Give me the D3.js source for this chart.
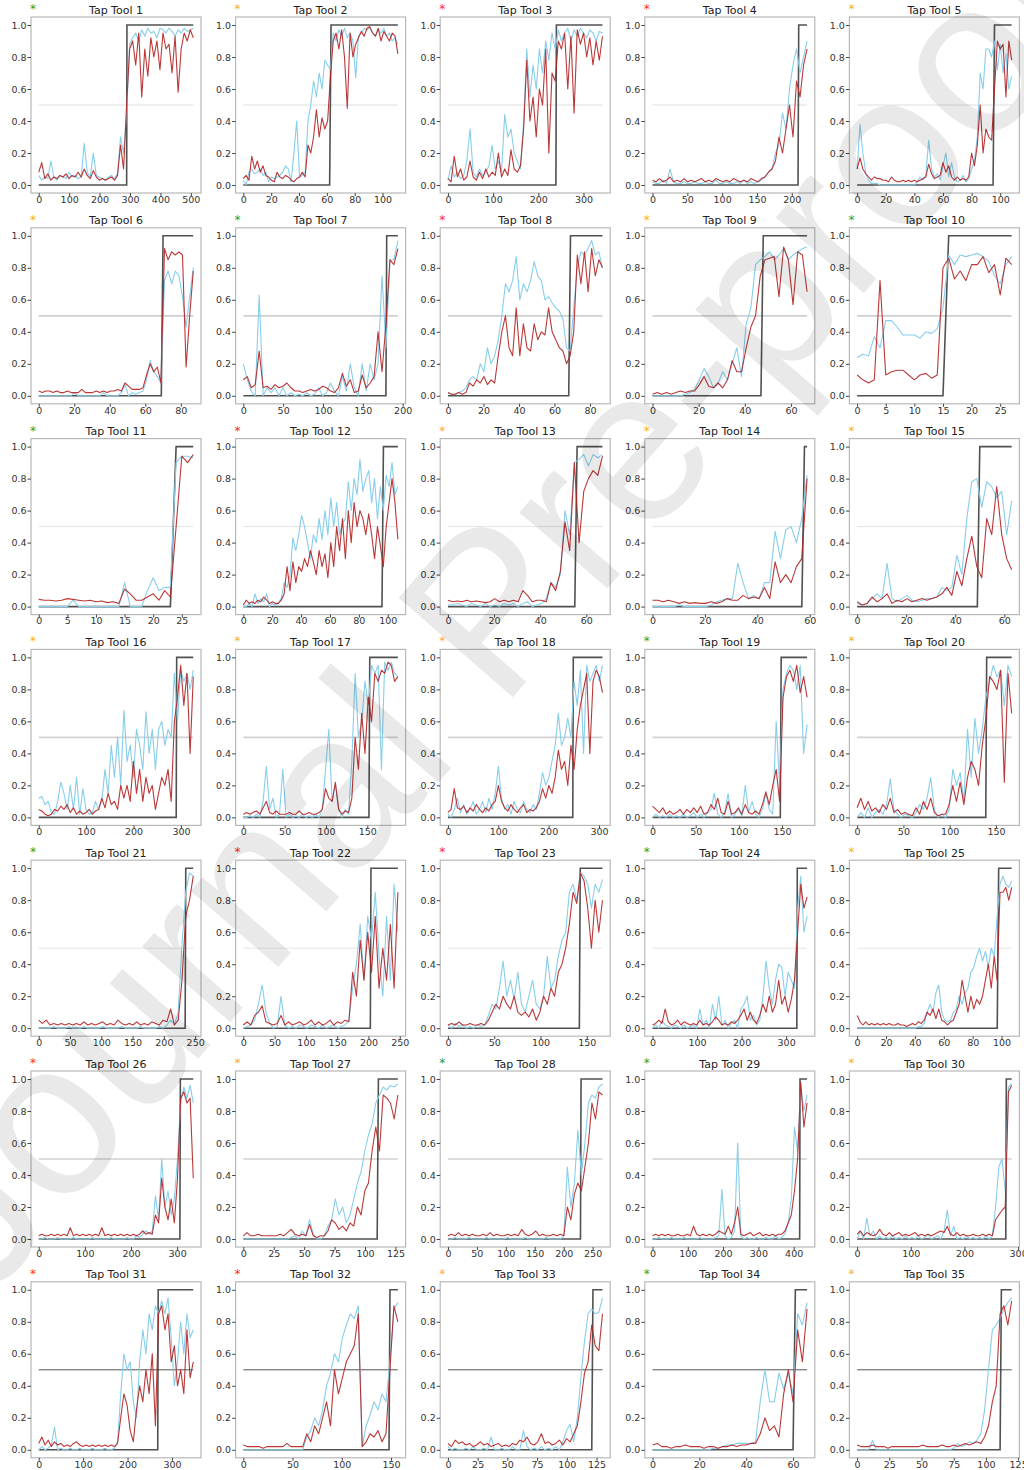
<!DOCTYPE html>
<html><head><meta charset="utf-8">
<script src="https://cdn.jsdelivr.net/npm/d3@7"></script>
<style>body{margin:0;background:#fff}</style>
</head><body><script>
// ---------- data ----------
const titles = d3.range(1, 36).map(i => "Tap Tool " + i);
const markers = ["g","o","r","r","o", "o","g","r","o","g", "g","r","o","o","o", "o","o","o","g","o", "g","r","r","g","o", "r","o","g","g","o", "r","r","o","g","o"];
const lengths = [509,112,343,223,109, 88,195,88,68,28, 28,108,68,60,64, 327,188,308,180,168, 248,248,168,348,108, 336,128,268,439,289, 349,158,131,67,121];
const changePoints = [290,63,240,210,96, 70,180,69,48,16, 24,97,56,58,50, 291,153,249,149,140, 235,204,143,325,98, 307,111,230,418,278, 269,149,122,61,112];
const xTickSteps = [100,20,100,50,20, 20,50,20,20,5, 5,20,20,20,20, 100,50,100,50,50, 50,50,50,100,20, 100,25,50,100,100, 100,50,25,20,25];
const yTicks = [0,0.2,0.4,0.6,0.8,1.0];

const b1=[0.06,0.03,0.05,0.04,0.15,0.05,0.03,0.06,0.05,0.04,0.08,0.05,0.06,0.04,0.05,0.26,0.08,0.05,0.2,0.06,0.05,0.04,0.03,0.05,0.06,0.04,0.07,0.3,0.2,0.45,0.88,0.92,0.95,0.9,0.97,0.93,0.98,0.95,0.96,0.92,0.98,0.97,0.95,0.98,0.96,0.93,0.97,0.95,0.98,0.96,0.97,0.98];
const r1=[0.08,0.14,0.04,0.07,0.03,0.05,0.04,0.06,0.05,0.07,0.04,0.06,0.05,0.08,0.05,0.1,0.06,0.04,0.09,0.05,0.03,0.04,0.03,0.04,0.05,0.03,0.06,0.25,0.1,0.5,0.85,0.9,0.75,0.95,0.55,0.85,0.68,0.92,0.8,0.9,0.72,0.95,0.85,0.88,0.7,0.93,0.58,0.85,0.95,0.9,0.97,0.92];
const b2=[0.03,0.0,0.08,0.1,0.07,0.08,0.1,0.06,0.08,0.02,0.05,0.04,0.05,0.06,0.08,0.12,0.1,0.02,0.2,0.4,0.05,0.06,0.08,0.4,0.5,0.65,0.55,0.7,0.6,0.78,0.75,0.72,0.95,0.9,0.97,0.93,0.98,0.92,0.95,0.9,0.67,0.93,0.95,0.98,0.97,0.98,0.95,0.93,0.97,0.95,0.98,0.93,0.95,0.9,0.92,0.88];
const r2=[0.04,0.06,0.03,0.18,0.1,0.15,0.08,0.12,0.06,0.05,0.03,0.02,0.08,0.05,0.04,0.06,0.05,0.03,0.02,0.04,0.05,0.08,0.05,0.25,0.2,0.3,0.47,0.3,0.42,0.35,0.4,0.68,0.9,0.95,0.85,0.97,0.8,0.48,0.95,0.8,0.88,0.92,0.96,0.93,0.98,0.99,0.95,0.93,0.98,0.9,0.96,0.93,0.9,0.95,0.93,0.82];
const b3=[0.03,0.12,0.05,0.08,0.04,0.06,0.15,0.35,0.08,0.05,0.1,0.06,0.08,0.12,0.25,0.1,0.15,0.08,0.44,0.3,0.35,0.2,0.15,0.1,0.4,0.85,0.55,0.75,0.6,0.85,0.7,0.9,0.78,0.95,0.85,0.97,0.9,0.95,0.98,0.9,0.97,0.93,0.98,0.95,0.92,0.97,0.95,0.9,0.96,0.95];
const r3=[0.04,0.02,0.18,0.05,0.1,0.03,0.05,0.15,0.05,0.03,0.08,0.04,0.1,0.05,0.08,0.06,0.2,0.05,0.1,0.06,0.22,0.1,0.08,0.12,0.35,0.78,0.4,0.55,0.3,0.6,0.5,0.85,0.2,0.7,0.65,0.9,0.85,0.95,0.6,0.93,0.45,0.97,0.88,0.95,0.8,0.92,0.75,0.9,0.78,0.93];
const b4=[0.02,0.01,0.01,0.03,0.01,0.1,0.02,0.01,0.01,0.02,0.01,0.01,0.02,0.01,0.01,0.02,0.01,0.01,0.03,0.01,0.01,0.02,0.01,0.01,0.02,0.01,0.03,0.01,0.02,0.01,0.02,0.03,0.05,0.08,0.1,0.2,0.25,0.45,0.35,0.6,0.75,0.85,0.7,0.8,0.9];
const r4=[0.03,0.02,0.04,0.02,0.03,0.05,0.02,0.03,0.02,0.04,0.02,0.03,0.02,0.03,0.04,0.02,0.03,0.02,0.04,0.03,0.02,0.03,0.02,0.04,0.03,0.02,0.03,0.02,0.04,0.03,0.02,0.04,0.05,0.08,0.1,0.15,0.3,0.2,0.35,0.5,0.3,0.65,0.55,0.75,0.85];
const b5=[0.1,0.38,0.2,0.08,0.03,0.01,0.01,0.01,0,0,0,0,0,0,0,0,0,0,0,0,0,0.02,0.05,0.03,0.06,0.28,0.1,0.05,0.07,0.03,0.12,0.2,0.05,0.14,0.05,0.02,0.03,0.06,0.02,0.04,0.1,0.15,0.3,0.7,0.6,0.85,0.85,0.8,0.9,0.72,0.88,0.7,0.82,0.6,0.68];
const r5=[0.1,0.17,0.1,0.07,0.05,0.03,0.05,0.04,0.04,0.03,0.03,0.02,0.05,0.03,0.02,0.02,0.03,0.02,0.03,0.02,0.03,0.02,0.03,0.04,0.05,0.13,0.07,0.04,0.05,0.06,0.14,0.08,0.12,0.05,0.03,0.05,0.03,0.04,0.03,0.05,0.2,0.12,0.25,0.5,0.2,0.35,0.3,0.28,0.6,0.9,0.85,0.88,0.55,0.9,0.78];
const b6=[0,0,0,0,0,0,0,0,0,0,0.02,0,0,0,0,0,0,0,0.02,0,0,0,0,0.02,0.07,0,0.02,0.01,0.02,0.03,0.1,0.22,0.15,0.12,0.08,0.72,0.78,0.7,0.78,0.75,0.62,0.43,0.62,0.8];
const r6=[0.03,0.02,0.03,0.03,0.02,0.03,0.02,0.02,0.03,0.02,0.02,0.02,0.04,0.02,0.02,0.02,0.03,0.02,0.03,0.02,0.03,0.03,0.04,0.03,0.08,0.06,0.04,0.04,0.04,0.05,0.13,0.2,0.15,0.18,0.08,0.92,0.85,0.9,0.88,0.9,0.88,0.18,0.5,0.78];
const b7=[0.2,0.1,0.03,0,0.63,0,0.05,0.02,0.05,0,0.05,0,0.02,0,0.01,0,0.02,0,0.01,0.05,0,0.02,0.08,0.03,0,0.12,0.03,0.2,0.05,0,0.2,0.03,0.2,0.1,0.2,0.75,0.3,0.85,0.85,0.97];
const r7=[0.1,0.12,0.05,0.07,0.28,0.05,0.06,0.04,0.07,0.05,0.06,0.08,0.05,0.03,0.03,0.02,0.03,0.04,0.03,0.04,0.06,0.05,0.03,0.02,0.05,0.14,0.06,0.1,0.02,0.03,0.13,0.05,0.08,0.12,0.4,0.15,0.45,0.85,0.82,0.92];
const b8=[0.02,0.01,0.01,0.02,0.03,0.05,0.1,0.12,0.1,0.2,0.15,0.3,0.2,0.25,0.35,0.5,0.7,0.65,0.72,0.87,0.6,0.7,0.65,0.72,0.84,0.75,0.72,0.6,0.62,0.58,0.55,0.53,0.48,0.3,0.28,0.55,0.8,0.9,0.88,0.92,0.97,0.88,0.9,0.8];
const r8=[0.02,0.01,0.01,0.02,0.01,0.02,0.08,0.06,0.1,0.08,0.12,0.07,0.1,0.08,0.25,0.4,0.5,0.3,0.25,0.55,0.25,0.45,0.3,0.28,0.45,0.35,0.4,0.38,0.55,0.4,0.35,0.3,0.28,0.2,0.25,0.4,0.88,0.7,0.9,0.65,0.92,0.75,0.85,0.8];
const b9=[0,0,0,0,0,0,0,0.01,0.02,0.04,0.1,0.17,0.12,0.05,0.08,0.15,0.1,0.2,0.3,0.12,0.45,0.55,0.82,0.85,0.87,0.9,0.85,0.88,0.92,0.85,0.88,0.9,0.92,0.93];
const r9=[0.01,0.02,0.01,0.02,0.01,0.02,0.03,0.02,0.03,0.03,0.07,0.12,0.06,0.05,0.08,0.05,0.1,0.22,0.15,0.15,0.3,0.43,0.5,0.75,0.85,0.86,0.87,0.62,0.93,0.85,0.57,0.9,0.88,0.65];
const b10=[0.24,0.26,0.25,0.37,0.3,0.47,0.47,0.43,0.38,0.38,0.38,0.36,0.4,0.39,0.42,0.55,0.88,0.82,0.88,0.87,0.88,0.89,0.87,0.84,0.75,0.7,0.82,0.87];
const r10=[0.13,0.1,0.08,0.1,0.72,0.13,0.15,0.16,0.16,0.13,0.1,0.13,0.14,0.11,0.13,0.8,0.86,0.73,0.78,0.72,0.82,0.82,0.87,0.77,0.82,0.63,0.86,0.82];
const b11=[0,0,0,0,0,0,0.04,0,0,0,0,0,0,0,0,0.15,0,0,0,0.1,0.18,0.1,0.12,0.12,0.9,0.94,0.94,0.93];
const r11=[0.045,0.04,0.04,0.035,0.04,0.05,0.045,0.04,0.035,0.04,0.03,0.035,0.025,0.03,0.02,0.11,0.08,0.04,0.04,0.06,0.08,0.04,0.1,0.06,0.5,0.94,0.9,0.95];
const b12=[0,0,0.02,0,0.08,0.02,0.05,0.03,0.08,0,0.02,0.01,0.02,0.05,0.15,0.12,0.2,0.43,0.35,0.45,0.57,0.5,0.4,0.3,0.45,0.4,0.55,0.42,0.6,0.45,0.68,0.5,0.65,0.45,0.52,0.55,0.78,0.6,0.8,0.7,0.92,0.72,0.8,0.85,0.65,0.8,0.55,0.75,0.6,0.82,0.75,0.9,0.7,0.75];
const r12=[0.01,0.04,0.02,0.03,0.02,0.04,0.03,0.06,0.04,0.02,0.03,0.02,0.02,0.04,0.08,0.25,0.1,0.28,0.15,0.25,0.22,0.3,0.25,0.35,0.28,0.2,0.35,0.25,0.33,0.18,0.4,0.25,0.5,0.35,0.55,0.3,0.6,0.4,0.65,0.5,0.6,0.55,0.45,0.58,0.45,0.3,0.5,0.38,0.25,0.5,0.65,0.8,0.65,0.42];
const b13=[0.01,0.01,0.02,0.01,0,0.02,0.01,0,0.02,0,0.01,0,0.02,0.01,0.02,0,0.02,0.03,0,0.01,0.02,0.05,0.15,0.12,0.2,0.6,0.45,0.9,0.92,0.95,0.88,0.95,0.93,0.95];
const r13=[0.04,0.03,0.035,0.03,0.04,0.03,0.035,0.03,0.025,0.03,0.05,0.03,0.04,0.03,0.04,0.03,0.1,0.07,0.03,0.04,0.04,0.03,0.15,0.1,0.22,0.53,0.35,0.9,0.4,0.72,0.8,0.85,0.82,0.94];
const b14=[0,0,0,0,0,0.01,0,0,0,0,0,0.01,0.03,0.04,0.05,0.05,0.27,0.15,0.05,0.07,0.05,0.15,0.15,0.47,0.3,0.48,0.5,0.4,0.55,0.82];
const r14=[0.04,0.04,0.03,0.04,0.03,0.02,0.03,0.02,0.025,0.02,0.02,0.03,0.02,0.03,0.05,0.04,0.04,0.07,0.05,0.06,0.05,0.12,0.05,0.28,0.15,0.2,0.15,0.25,0.3,0.8];
const b15=[0.02,0.01,0.02,0.05,0.08,0.05,0.27,0.05,0.03,0.05,0.07,0.04,0.03,0.04,0.05,0.05,0.06,0.12,0.1,0.12,0.32,0.2,0.55,0.78,0.8,0.62,0.78,0.75,0.68,0.72,0.45,0.66];
const r15=[0.03,0.01,0.02,0.06,0.03,0.05,0.08,0.02,0.04,0.03,0.05,0.03,0.04,0.05,0.04,0.05,0.06,0.08,0.12,0.07,0.22,0.13,0.3,0.44,0.25,0.18,0.55,0.45,0.75,0.45,0.3,0.23];
const b16=[0.12,0.13,0.08,0.1,0.03,0.02,0.1,0.22,0.15,0.05,0.2,0.05,0.25,0.02,0.18,0.05,0.02,0.03,0.1,0.05,0.1,0.3,0.15,0.45,0.25,0.5,0.2,0.67,0.35,0.45,0.25,0.55,0.45,0.3,0.66,0.4,0.55,0.3,0.55,0.6,0.45,0.55,0.5,0.9,0.6,0.92,0.85,0.9,0.8,0.92];
const r16=[0.05,0.04,0.02,0.01,0.02,0.05,0.04,0.07,0.05,0.08,0.03,0.06,0.02,0.04,0.02,0.03,0.05,0.02,0.04,0.05,0.12,0.06,0.15,0.08,0.1,0.05,0.2,0.12,0.2,0.1,0.35,0.15,0.3,0.1,0.25,0.15,0.2,0.05,0.15,0.25,0.2,0.3,0.1,0.6,0.75,0.95,0.7,0.9,0.4,0.88];
const b17=[0,0,0.01,0,0.02,0,0.1,0.32,0.05,0.12,0,0.02,0.3,0,0.02,0,0.01,0,0.02,0,0.01,0,0.02,0,0.05,0.3,0.55,0.1,0.2,0.05,0,0.05,0.02,0.35,0.9,0.5,0.6,0.85,0.7,0.95,0.9,0.95,0.3,0.97,0.92,0.97,0.9,0.88];
const r17=[0.02,0.03,0.02,0.03,0.04,0.02,0.06,0.1,0.03,0.02,0.04,0.02,0.02,0.02,0.03,0.02,0.02,0.04,0.02,0.02,0.03,0.02,0.02,0.03,0.05,0.18,0.12,0.1,0.22,0.05,0.02,0.04,0.03,0.12,0.5,0.3,0.65,0.4,0.75,0.6,0.9,0.85,0.92,0.9,0.97,0.95,0.85,0.88];
const b18=[0.02,0,0.05,0.12,0.03,0.08,0.02,0.05,0.1,0.02,0.05,0.1,0.03,0.12,0.05,0.15,0.32,0.12,0.05,0.08,0.02,0.1,0.05,0.03,0.1,0.05,0.03,0.08,0.05,0.15,0.28,0.2,0.25,0.35,0.45,0.65,0.45,0.5,0.62,0.5,0.85,0.7,0.92,0.4,0.95,0.85,0.9,0.95,0.85,0.95];
const r18=[0.03,0.05,0.18,0.06,0.05,0.07,0.03,0.06,0.04,0.08,0.05,0.03,0.06,0.04,0.08,0.1,0.2,0.1,0.06,0.04,0.08,0.05,0.03,0.06,0.08,0.03,0.05,0.04,0.06,0.1,0.18,0.12,0.2,0.15,0.25,0.42,0.3,0.35,0.2,0.45,0.3,0.55,0.7,0.8,0.9,0.4,0.85,0.92,0.88,0.78];
const b19=[0,0.02,0,0.01,0,0.02,0,0.01,0,0.02,0,0.01,0.03,0,0.02,0,0.03,0.05,0.15,0.02,0,0.03,0.15,0,0.02,0.05,0.01,0.2,0.03,0.1,0.02,0,0.05,0.15,0.05,0.02,0.6,0.2,0.8,0.9,0.95,0.92,0.8,0.95,0.4,0.58];
const r19=[0.07,0.05,0.03,0.06,0.02,0.04,0.02,0.03,0.05,0.02,0.05,0.03,0.06,0.03,0.07,0.02,0.03,0.08,0.05,0.12,0.03,0.02,0.1,0.02,0.03,0.06,0.02,0.08,0.03,0.02,0.04,0.02,0.08,0.16,0.08,0.2,0.3,0.1,0.75,0.88,0.92,0.85,0.95,0.78,0.88,0.75];
const b20=[0,0.03,0,0.06,0,0.03,0.05,0.02,0.08,0.24,0.05,0.02,0,0.02,0.01,0,0.03,0.08,0.05,0.12,0.25,0.05,0,0.02,0,0.05,0.3,0.2,0.28,0.1,0.55,0.25,0.62,0.4,0.55,0.75,0.85,0.95,0.88,0.92,0.7,0.95,0.88];
const r20=[0.06,0.12,0.05,0.1,0.04,0.06,0.03,0.08,0.05,0.12,0.03,0.05,0.02,0.03,0.02,0.01,0.06,0.02,0.1,0.05,0.12,0.03,0.01,0.02,0.02,0.08,0.2,0.1,0.22,0.08,0.25,0.35,0.3,0.2,0.45,0.62,0.88,0.85,0.8,0.92,0.22,0.9,0.65];
const b21=[0,0,0,0,0.01,0,0,0,0.01,0,0,0,0.01,0,0,0,0,0.01,0,0,0,0,0.01,0,0,0,0,0.01,0,0,0,0,0.01,0,0.02,0.05,0.02,0.1,0.52,0.85,0.97,0.95];
const r21=[0.05,0.03,0.05,0.02,0.03,0.02,0.03,0.02,0.03,0.02,0.03,0.02,0.04,0.02,0.03,0.02,0.03,0.04,0.02,0.03,0.02,0.05,0.03,0.02,0.03,0.02,0.04,0.02,0.03,0.02,0.04,0.03,0.02,0.05,0.04,0.12,0.02,0.05,0.3,0.7,0.8,0.95];
const b22=[0,0.01,0.02,0.05,0.15,0.27,0.1,0.03,0,0.01,0.2,0.02,0,0.01,0,0.02,0.01,0,0.02,0.01,0,0.02,0,0.01,0.02,0,0.01,0.02,0.05,0.25,0.4,0.65,0.3,0.7,0.55,0.85,0.45,0.2,0.7,0.3,0.9,0.6];
const r22=[0.02,0.04,0.02,0.08,0.1,0.14,0.04,0.03,0.02,0.03,0.08,0.02,0.04,0.02,0.03,0.04,0.02,0.03,0.05,0.02,0.04,0.02,0.03,0.05,0.02,0.04,0.03,0.05,0.04,0.35,0.2,0.55,0.3,0.6,0.35,0.7,0.25,0.5,0.3,0.65,0.25,0.85];
const b23=[0.02,0,0.03,0.01,0.02,0,0.01,0,0.02,0.01,0.02,0.08,0.15,0.12,0.25,0.42,0.2,0.3,0.18,0.35,0.15,0.1,0.2,0.3,0.15,0.12,0.2,0.45,0.25,0.3,0.45,0.55,0.6,0.85,0.9,0.8,0.97,0.95,0.9,0.75,0.9,0.85,0.93];
const r23=[0.02,0.03,0.02,0.04,0.02,0.02,0.03,0.02,0.02,0.03,0.02,0.05,0.1,0.15,0.12,0.2,0.15,0.12,0.2,0.1,0.08,0.1,0.07,0.12,0.05,0.1,0.2,0.15,0.25,0.2,0.35,0.4,0.5,0.65,0.85,0.78,0.97,0.92,0.75,0.5,0.8,0.6,0.8];
const b24=[0,0.02,0,0.05,0.02,0.01,0,0.02,0.01,0,0.02,0,0.01,0.02,0,0.12,0.02,0.05,0,0.15,0.05,0.2,0.02,0.05,0,0.03,0.05,0,0.12,0.15,0.2,0.05,0.08,0.02,0.05,0.2,0.42,0.25,0.15,0.3,0.4,0.38,0.2,0.35,0.3,0.25,0.75,0.95,0.6,0.7];
const r24=[0.02,0.03,0.05,0.03,0.12,0.04,0.02,0.03,0.05,0.02,0.04,0.03,0.02,0.03,0.02,0.05,0.02,0.03,0.02,0.04,0.07,0.05,0.02,0.03,0.02,0.04,0.03,0.05,0.08,0.12,0.05,0.1,0.05,0.03,0.08,0.15,0.1,0.2,0.1,0.15,0.3,0.15,0.2,0.1,0.18,0.3,0.6,0.9,0.75,0.82];
const b25=[0,0,0,0,0,0,0,0,0,0,0,0,0,0,0,0,0,0,0,0,0,0.01,0.01,0.03,0.1,0.15,0.1,0.22,0.27,0.1,0.05,0.04,0.05,0.1,0.12,0.2,0.15,0.22,0.25,0.35,0.38,0.45,0.5,0.42,0.48,0.38,0.5,0.45,0.7,0.9,0.95,0.9,0.88,0.92];
const r25=[0.08,0.04,0.02,0.04,0.02,0.03,0.02,0.03,0.02,0.03,0.02,0.03,0.02,0.02,0.03,0.02,0.02,0.01,0.02,0.03,0.02,0.04,0.03,0.05,0.1,0.08,0.12,0.06,0.12,0.05,0.04,0.02,0.04,0.05,0.1,0.15,0.3,0.2,0.1,0.2,0.12,0.18,0.15,0.2,0.3,0.4,0.25,0.45,0.3,0.85,0.85,0.88,0.8,0.88];
const b26=[0,0,0.01,0,0,0,0.01,0,0,0,0,0.01,0,0,0,0,0,0.01,0,0,0,0,0,0.01,0,0,0,0,0.01,0,0,0.02,0.01,0.03,0.05,0.03,0.05,0.27,0.12,0.5,0.2,0.3,0.15,0.25,0.5,0.85,0.95,0.88,0.96,0.85];
const r26=[0.02,0.03,0.02,0.02,0.03,0.02,0.03,0.02,0.03,0.02,0.07,0.02,0.03,0.02,0.03,0.02,0.03,0.02,0.03,0.02,0.07,0.02,0.03,0.02,0.03,0.02,0.03,0.02,0.03,0.02,0.03,0.02,0.03,0.05,0.03,0.04,0.03,0.15,0.1,0.38,0.2,0.12,0.25,0.1,0.38,0.88,0.92,0.85,0.88,0.38];
const b27=[0,0,0,0,0,0,0,0,0,0,0,0,0,0.01,0.02,0,0.05,0.02,0.12,0.03,0,0,0.02,0.08,0.12,0.25,0.15,0.2,0.1,0.15,0.25,0.35,0.42,0.55,0.65,0.72,0.85,0.9,0.95,0.93,0.96,0.95,0.97];
const r27=[0.02,0.04,0.02,0.02,0.03,0.02,0.02,0.02,0.02,0.02,0.03,0.02,0.04,0.06,0.03,0.02,0.03,0.02,0.09,0.02,0.01,0.02,0.02,0.05,0.12,0.1,0.06,0.08,0.05,0.1,0.08,0.2,0.15,0.3,0.35,0.55,0.7,0.55,0.9,0.88,0.85,0.75,0.9];
const b28=[0,0,0.01,0,0,0,0.01,0,0,0,0,0.01,0,0,0,0,0,0.01,0,0,0,0,0.01,0,0,0,0,0,0.01,0,0,0,0,0.02,0.45,0.2,0.35,0.68,0.4,0.6,0.85,0.9,0.88,0.95,0.97];
const r28=[0.02,0.03,0.02,0.04,0.02,0.03,0.02,0.03,0.02,0.02,0.03,0.02,0.04,0.02,0.03,0.02,0.02,0.03,0.02,0.03,0.02,0.06,0.03,0.02,0.03,0.05,0.02,0.03,0.02,0.02,0.03,0.02,0.03,0.02,0.2,0.12,0.28,0.35,0.3,0.45,0.6,0.85,0.75,0.92,0.9];
const b29=[0,0,0.01,0,0,0,0.01,0,0,0,0.01,0,0,0,0,0.01,0,0,0,0,0.01,0.02,0.31,0.02,0,0.01,0.05,0.6,0.02,0,0.01,0,0,0.01,0,0,0.01,0,0,0.02,0,0.01,0.03,0.1,0.25,0.7,0.55,0.95,0.8,0.9];
const r29=[0.02,0.03,0.02,0.03,0.02,0.03,0.02,0.02,0.03,0.02,0.02,0.03,0.02,0.08,0.03,0.02,0.03,0.02,0.03,0.02,0.03,0.05,0.04,0.03,0.08,0.03,0.1,0.2,0.03,0.02,0.03,0.04,0.02,0.03,0.04,0.02,0.03,0.02,0.03,0.02,0.03,0.03,0.05,0.1,0.15,0.3,0.5,0.98,0.7,0.85];
const b30=[0,0.05,0,0.13,0.02,0.05,0,0.02,0,0.01,0,0.02,0,0.01,0,0.02,0,0.01,0,0.02,0,0.01,0.03,0,0.01,0.02,0,0.05,0.18,0.02,0.08,0,0.01,0,0.02,0,0.01,0,0.01,0,0.02,0,0.02,0.2,0.45,0.5,0.3,0.95,0.97];
const r30=[0.03,0.05,0.02,0.04,0.03,0.02,0.03,0.06,0.03,0.02,0.04,0.02,0.03,0.04,0.02,0.03,0.02,0.03,0.04,0.02,0.03,0.02,0.03,0.02,0.03,0.04,0.05,0.04,0.08,0.03,0.02,0.04,0.02,0.03,0.02,0.02,0.03,0.02,0.02,0.03,0.02,0.03,0.02,0.12,0.15,0.18,0.2,0.92,0.96];
const b31=[0,0.02,0,0.01,0.03,0.14,0,0.01,0,0,0.01,0,0,0.01,0,0,0,0.01,0,0,0,0.01,0,0,0.01,0.05,0.35,0.6,0.5,0.55,0.3,0.2,0.55,0.75,0.6,0.85,0.75,0.9,0.85,0.93,0.85,0.95,0.7,0.4,0.55,0.8,0.6,0.85,0.7,0.75];
const r31=[0.04,0.08,0.03,0.06,0.02,0.05,0.03,0.04,0.02,0.03,0.02,0.04,0.05,0.03,0.02,0.03,0.02,0.03,0.02,0.03,0.02,0.03,0.02,0.03,0.02,0.04,0.2,0.35,0.28,0.12,0.05,0.25,0.4,0.3,0.5,0.35,0.6,0.15,0.85,0.9,0.75,0.85,0.55,0.65,0.4,0.5,0.35,0.75,0.45,0.55];
const b32=[0,0,0,0,0,0,0,0,0,0,0,0,0,0,0,0,0.08,0.12,0.2,0.15,0.25,0.4,0.48,0.6,0.55,0.7,0.78,0.85,0.82,0.9,0.02,0.15,0.22,0.3,0.25,0.35,0.3,0.55,0.88,0.92];
const r32=[0.03,0.02,0.02,0.02,0.02,0.01,0.02,0.02,0.02,0.02,0.02,0.04,0.02,0.02,0.02,0.02,0.1,0.05,0.15,0.1,0.2,0.3,0.15,0.5,0.35,0.45,0.55,0.6,0.65,0.85,0.02,0.05,0.1,0.08,0.12,0.05,0.1,0.5,0.9,0.8];
const b33=[0.02,0,0.01,0,0,0.01,0,0.02,0,0,0.01,0,0.08,0,0,0.01,0,0,0.02,0,0,0.12,0.02,0,0.01,0,0.02,0,0.01,0,0.02,0,0.05,0.12,0.16,0.05,0.2,0.45,0.68,0.85,0.88,0.85,0.86,0.95];
const r33=[0.04,0.02,0.06,0.04,0.05,0.03,0.04,0.02,0.03,0.05,0.03,0.04,0.02,0.03,0.04,0.02,0.03,0.02,0.04,0.03,0.06,0.05,0.08,0.04,0.03,0.05,0.1,0.04,0.05,0.03,0.04,0.06,0.03,0.07,0.05,0.1,0.15,0.3,0.48,0.55,0.78,0.65,0.62,0.85];
const b34=[0,0,0,0,0,0,0,0,0,0,0,0,0,0.01,0.01,0.02,0.03,0.03,0.04,0.04,0.04,0.04,0.05,0.3,0.5,0.3,0.3,0.48,0.38,0.48,0.35,0.85,0.78,0.92];
const r34=[0.03,0.04,0.02,0.02,0.01,0.02,0.02,0.03,0.02,0.02,0.02,0.01,0.02,0.02,0.01,0.02,0.02,0.03,0.02,0.03,0.03,0.04,0.04,0.1,0.2,0.12,0.15,0.08,0.35,0.5,0.3,0.75,0.55,0.88];
const b35=[0,0,0,0,0.06,0,0,0,0,0,0,0,0,0,0,0,0,0,0,0,0,0,0,0,0,0.01,0.04,0.02,0.03,0.05,0.04,0.06,0.1,0.25,0.5,0.75,0.78,0.82,0.88,0.92,0.95];
const r35=[0.03,0.02,0.02,0.02,0.03,0.02,0.02,0.02,0.01,0.02,0.02,0.02,0.02,0.02,0.02,0.02,0.02,0.03,0.02,0.02,0.02,0.02,0.03,0.02,0.02,0.03,0.02,0.03,0.04,0.03,0.04,0.05,0.04,0.08,0.15,0.3,0.4,0.85,0.9,0.78,0.93];

const blueSeries=[b1,b2,b3,b4,b5,b6,b7,b8,b9,b10,b11,b12,b13,b14,b15,b16,b17,b18,b19,b20,b21,b22,b23,b24,b25,b26,b27,b28,b29,b30,b31,b32,b33,b34,b35];
const redSeries=[r1,r2,r3,r4,r5,r6,r7,r8,r9,r10,r11,r12,r13,r14,r15,r16,r17,r18,r19,r20,r21,r22,r23,r24,r25,r26,r27,r28,r29,r30,r31,r32,r33,r34,r35];

// ---------- drawing ----------
const W=1024, H=1470;
const markerColor={g:"#2ca02c", o:"#ffad1f", r:"#ff2b2b"};
const FONT="DejaVu Sans, sans-serif";
const colX0=31, colDX=204.6, rowY0=17, rowDY=210.8, pw=170, ph=176;
const hlineStyle=[
  {c:"#dedede",w:1},{c:"#cfcfcf",w:1.8},{c:"#e2e2e2",w:1},{c:"#d2d2d2",w:1.8},
  {c:"#e6e6e6",w:1},{c:"#d0d0d0",w:1.6},{c:"#555555",w:1}
];

const svg=d3.select("body").append("svg").attr("width",W).attr("height",H)
  .style("background","#fff");

titles.forEach((title,k)=>{
  const c=k%5, r=Math.floor(k/5);
  const left=colX0+c*colDX, top=rowY0+r*rowDY;
  const last=lengths[k]-1;
  const x=d3.scaleLinear().domain([-0.05*last,1.05*last]).range([left,left+pw]);
  const y=d3.scaleLinear().domain([-0.05,1.05]).range([top+ph,top]);
  const g=svg.append("g");

  g.append("rect").attr("x",left).attr("y",top).attr("width",pw).attr("height",ph)
    .attr("fill","none").attr("stroke","#b8b8b8").attr("stroke-width",1.2);

  const hs=hlineStyle[r];
  g.append("line").attr("x1",x(0)).attr("x2",x(last)).attr("y1",y(0.5)).attr("y2",y(0.5))
    .attr("stroke",hs.c).attr("stroke-width",hs.w);

  const line=d3.line().x(d=>x(d[0])).y(d=>y(d[1]));
  const T=changePoints[k];
  const truth=[[0,0],[T-1,0],[T,1],[last,1]];
  g.append("path").attr("d",line(truth)).attr("fill","none")
    .attr("stroke","#333").attr("stroke-opacity",0.85).attr("stroke-width",1.6);

  const toPts=arr=>arr.map((v,i)=>[i*last/(arr.length-1),v]);
  g.append("path").attr("d",line(toPts(blueSeries[k]))).attr("fill","none")
    .attr("stroke","#87ceeb").attr("stroke-width",1.1).attr("stroke-linejoin","round");
  g.append("path").attr("d",line(toPts(redSeries[k]))).attr("fill","none")
    .attr("stroke","#b22222").attr("stroke-opacity",0.9).attr("stroke-width",1.1).attr("stroke-linejoin","round");

  const step=xTickSteps[k];
  const xt=d3.range(0,1.05*last+1e-9,step);
  const ax=g.append("g").attr("transform",`translate(0,${top+ph})`)
    .call(d3.axisBottom(x).tickValues(xt).tickFormat(d3.format("d")).tickSize(3).tickPadding(0));
  const ay=g.append("g").attr("transform",`translate(${left},0)`)
    .call(d3.axisLeft(y).tickValues(yTicks).tickFormat(d3.format(".1f")).tickSize(3.5).tickPadding(1));
  [ax,ay].forEach(a=>{
    a.select(".domain").remove();
    a.attr("color","#444");
    a.selectAll("text").attr("font-family",FONT).attr("font-size",9.5).attr("fill","#333");
  });

  g.append("text").attr("x",left+pw/2).attr("y",top-3.5).attr("text-anchor","middle")
    .attr("font-family",FONT).attr("font-size",11).attr("fill","#222").text(title);
  g.append("text").attr("x",left+2).attr("y",top-4).attr("text-anchor","middle")
    .attr("font-family",FONT).attr("font-size",12).attr("fill",markerColor[markers[k]]).text("*");
});

// watermark
svg.append("text").attr("transform","translate(545,660) rotate(-49)")
  .attr("text-anchor","middle").attr("font-family","Liberation Sans, Arial, sans-serif")
  .attr("font-size",220).attr("fill","#000").attr("fill-opacity",0.085)
  .style("pointer-events","none").text("Journal Pre-proof");
</script></body></html>
